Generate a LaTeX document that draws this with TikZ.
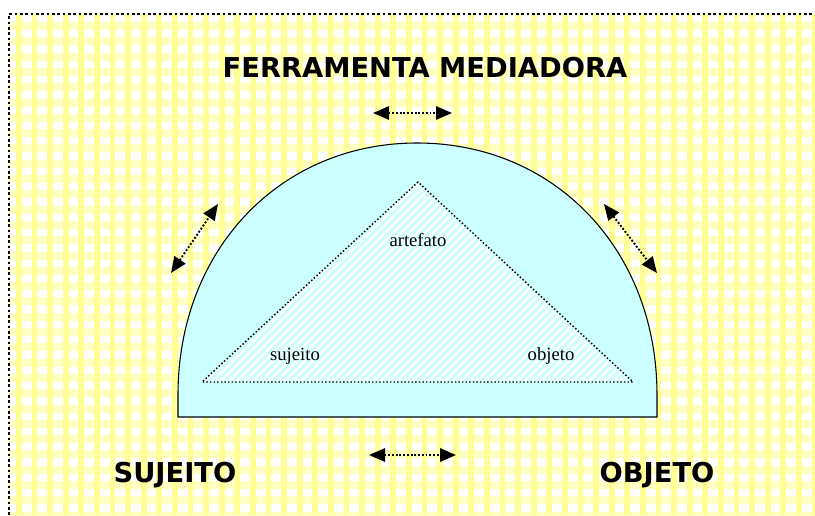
\documentclass[tikz,border=0pt]{standalone}
\usepackage{fontspec}
\setmainfont{Liberation Serif}
\newfontfamily\headfont{DejaVu Sans}
\usetikzlibrary{arrows.meta}

\definecolor{ginghamyellow}{RGB}{255,255,150}
\definecolor{ginghamlight}{RGB}{255,255,195}
\definecolor{domecyan}{RGB}{204,255,255}

\begin{document}
\begin{tikzpicture}[x=0.75pt, y=-0.75pt,
    bigtext/.style={font=\headfont\bfseries\fontsize{20.5}{24}\selectfont, anchor=base, inner sep=0pt},
    smalltext/.style={font=\fontsize{14}{16}\selectfont, anchor=base, inner sep=0pt},
    mediation/.style={line width=1.4pt, dash pattern=on 1.4pt off 1.4pt,
        {Triangle[length=12pt,width=10pt]}-{Triangle[length=12pt,width=10pt]}},
    dotborder/.style={line width=1.1pt, dash pattern=on 1.1pt off 1.6pt},
    stripe/.style={domecyan, line width=2.2pt}
        ]

    \path [use as bounding box] (0,0) rectangle (815,515);

    % gingham background
    \fill [white] (0,0) rectangle (815,515);
    \foreach \i in {0,...,32}
        \fill [ginghamlight] (9,22+15.3*\i) rectangle (815,30+15.3*\i);
    \foreach \i in {0,...,51}
        \fill [ginghamyellow] (16+15.6*\i,14) rectangle (21.7+15.6*\i,515);
    \draw [line width=2pt, dash pattern=on 2pt off 2pt] (9,515) -- (9,14) -- (815,14);

    % dome
    \draw [fill=domecyan, line width=0.8pt]
        (178,417) -- (178,395) .. controls (178,250) and (280,143) .. (417,143)
        .. controls (555,143) and (657,250) .. (657,395) -- (657,417) -- cycle;

    % triangle
    \coordinate (apex) at (418,182);
    \coordinate (baseL) at (202,382);
    \coordinate (baseR) at (633,382);

    \begin{scope}
        \clip (apex) -- (baseL) -- (baseR) -- cycle;
        \fill [white] (apex) -- (baseL) -- (baseR) -- cycle;
        \foreach \k in {196,204,...,640}
            \draw [stripe] (\k,386) -- ++(260,-260);
    \end{scope}
    \draw [dotborder] (apex) -- (baseL) -- (baseR) -- cycle;

    \node [smalltext] (artefato) at (418,246) {artefato};
    \node [smalltext] (sujeito) at (295,360) {sujeito};
    \node [smalltext] (objeto) at (551,360) {objeto};

    \node [bigtext] (ferramenta) at (425,77) {FERRAMENTA MEDIADORA};
    \node [bigtext] (sujeitobig) at (175,482) {SUJEITO};
    \node [bigtext] (objetobig) at (657,482) {OBJETO};

    % double arrows
    \coordinate (topL) at (373,113);
    \coordinate (topR) at (452,113);
    \coordinate (botL) at (369,455);
    \coordinate (botR) at (456,455);
    \coordinate (leftT) at (218,204);
    \coordinate (leftB) at (171,273);
    \coordinate (rightT) at (604,204);
    \coordinate (rightB) at (657,273);

    \draw [mediation] (topL) -- (topR);
    \draw [mediation] (botL) -- (botR);
    \draw [mediation] (leftB) -- (leftT);
    \draw [mediation] (rightT) -- (rightB);

\end{tikzpicture}
\end{document}
